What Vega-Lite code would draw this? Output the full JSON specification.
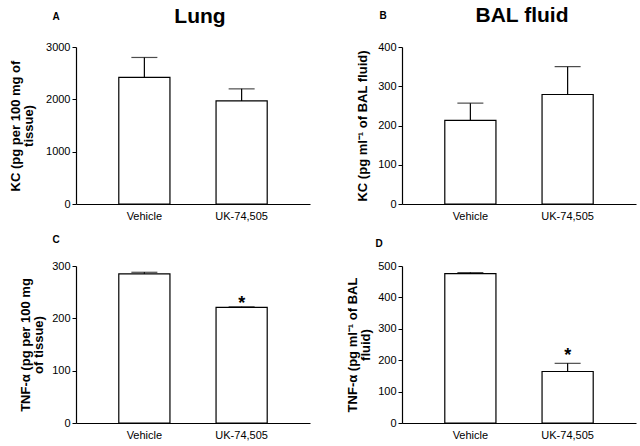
{
  "$schema": "https://vega.github.io/schema/vega-lite/v6.json",
  "background": "white",
  "padding": {"left": 9, "top": 5, "right": 5, "bottom": 5},
  "data": {"values": [
    {"panel": "A", "group": "Vehicle", "mean": 2420, "upper": 2800, "sig": ""},
    {"panel": "A", "group": "UK-74,505", "mean": 1970, "upper": 2200, "sig": ""},
    {"panel": "B", "group": "Vehicle", "mean": 213, "upper": 257, "sig": ""},
    {"panel": "B", "group": "UK-74,505", "mean": 279, "upper": 350, "sig": ""},
    {"panel": "C", "group": "Vehicle", "mean": 285, "upper": 288, "sig": ""},
    {"panel": "C", "group": "UK-74,505", "mean": 221, "upper": 222, "sig": "*"},
    {"panel": "D", "group": "Vehicle", "mean": 476, "upper": 479, "sig": ""},
    {"panel": "D", "group": "UK-74,505", "mean": 164, "upper": 190, "sig": "*"}
  ]},
  "columns": 2,
  "spacing": {"column": 36, "row": 13},
  "concat": [
    {
      "width": 234, "height": 157,
      "title": {"text": "Lung", "fontSize": 21, "fontWeight": "bold", "anchor": "middle", "frame": "group", "dx": 7, "offset": -33, "baseline": "alphabetic"},
      "transform": [{"filter": "datum.panel === 'A'"}],
      "layer": [
        {"mark": {"type": "bar", "fill": "white", "stroke": "black", "strokeWidth": 1.2},
         "encoding": {
           "x": {"field": "group", "type": "nominal", "sort": null, "scale": {"paddingInner": 0.474, "paddingOuter": 0.44},
                 "axis": {"orient": "bottom", "ticks": false, "labelAngle": 0, "labelPadding": 6, "title": null}},
           "y": {"field": "mean", "type": "quantitative", "scale": {"domain": [0, 3000], "nice": false},
                 "axis": {"values": [0, 1000, 2000, 3000], "title": ["KC (pg per 100 mg of", "tissue)"], "titlePadding": 10}}}},
        {"mark": {"type": "rule", "color": "black", "strokeWidth": 1.2},
         "encoding": {
           "x": {"field": "group", "type": "nominal", "sort": null,
                 "axis": {"orient": "top", "labels": false, "ticks": false, "domain": false, "title": "A", "titleX": -24, "titleY": -28, "titleAngle": 0, "titleAlign": "left", "titleBaseline": "alphabetic", "titleFontSize": 10}},
           "y": {"field": "mean", "type": "quantitative", "axis": {"values": [0, 1000, 2000, 3000], "title": ["KC (pg per 100 mg of", "tissue)"], "titlePadding": 10}},
           "y2": {"field": "upper"}}},
        {"mark": {"type": "tick", "color": "black", "size": 26, "thickness": 1.2},
         "encoding": {
           "x": {"field": "group", "type": "nominal", "sort": null, "axis": null},
           "y": {"field": "upper", "type": "quantitative", "axis": {"values": [0, 1000, 2000, 3000], "title": ["KC (pg per 100 mg of", "tissue)"], "titlePadding": 10}}}}
      ],
      "resolve": {"axis": {"x": "independent"}}
    },
    {
      "width": 234, "height": 157,
      "title": {"text": "BAL fluid", "fontSize": 21, "fontWeight": "bold", "anchor": "middle", "frame": "group", "dx": 3, "offset": -33, "baseline": "alphabetic"},
      "transform": [{"filter": "datum.panel === 'B'"}],
      "layer": [
        {"mark": {"type": "bar", "fill": "white", "stroke": "black", "strokeWidth": 1.2},
         "encoding": {
           "x": {"field": "group", "type": "nominal", "sort": null, "scale": {"paddingInner": 0.474, "paddingOuter": 0.44},
                 "axis": {"orient": "bottom", "ticks": false, "labelAngle": 0, "labelPadding": 6, "title": null}},
           "y": {"field": "mean", "type": "quantitative", "scale": {"domain": [0, 400], "nice": false},
                 "axis": {"values": [0, 100, 200, 300, 400], "title": "KC (pg ml⁻¹ of BAL fluid)", "titlePadding": 8}}}},
        {"mark": {"type": "rule", "color": "black", "strokeWidth": 1.2},
         "encoding": {
           "x": {"field": "group", "type": "nominal", "sort": null,
                 "axis": {"orient": "top", "labels": false, "ticks": false, "domain": false, "title": "B", "titleX": -23, "titleY": -29, "titleAngle": 0, "titleAlign": "left", "titleBaseline": "alphabetic", "titleFontSize": 10}},
           "y": {"field": "mean", "type": "quantitative", "axis": {"values": [0, 100, 200, 300, 400], "title": "KC (pg ml⁻¹ of BAL fluid)", "titlePadding": 8}},
           "y2": {"field": "upper"}}},
        {"mark": {"type": "tick", "color": "black", "size": 26, "thickness": 1.2},
         "encoding": {
           "x": {"field": "group", "type": "nominal", "sort": null, "axis": null},
           "y": {"field": "upper", "type": "quantitative", "axis": {"values": [0, 100, 200, 300, 400], "title": "KC (pg ml⁻¹ of BAL fluid)", "titlePadding": 8}}}}
      ],
      "resolve": {"axis": {"x": "independent"}}
    },
    {
      "width": 234, "height": 157,
      "transform": [{"filter": "datum.panel === 'C'"}],
      "layer": [
        {"mark": {"type": "bar", "fill": "white", "stroke": "black", "strokeWidth": 1.2},
         "encoding": {
           "x": {"field": "group", "type": "nominal", "sort": null, "scale": {"paddingInner": 0.474, "paddingOuter": 0.44},
                 "axis": {"orient": "bottom", "ticks": false, "labelAngle": 0, "labelPadding": 6, "title": null}},
           "y": {"field": "mean", "type": "quantitative", "scale": {"domain": [0, 300], "nice": false},
                 "axis": {"values": [0, 100, 200, 300], "title": ["TNF-α (pg per 100 mg", "of tissue)"], "titlePadding": 6}}}},
        {"mark": {"type": "rule", "color": "black", "strokeWidth": 1.2},
         "encoding": {
           "x": {"field": "group", "type": "nominal", "sort": null,
                 "axis": {"orient": "top", "labels": false, "ticks": false, "domain": false, "title": "C", "titleX": -24, "titleY": -24, "titleAngle": 0, "titleAlign": "left", "titleBaseline": "alphabetic", "titleFontSize": 10}},
           "y": {"field": "mean", "type": "quantitative", "axis": {"values": [0, 100, 200, 300], "title": ["TNF-α (pg per 100 mg", "of tissue)"], "titlePadding": 6}},
           "y2": {"field": "upper"}}},
        {"mark": {"type": "tick", "color": "black", "size": 26, "thickness": 1.2},
         "encoding": {
           "x": {"field": "group", "type": "nominal", "sort": null, "axis": null},
           "y": {"field": "upper", "type": "quantitative", "axis": {"values": [0, 100, 200, 300], "title": ["TNF-α (pg per 100 mg", "of tissue)"], "titlePadding": 6}}}},
        {"mark": {"type": "text", "fontSize": 18, "fontWeight": "bold", "baseline": "alphabetic", "dy": 2, "color": "black"},
         "encoding": {
           "x": {"field": "group", "type": "nominal", "sort": null, "axis": null},
           "y": {"field": "upper", "type": "quantitative", "axis": {"values": [0, 100, 200, 300], "title": ["TNF-α (pg per 100 mg", "of tissue)"], "titlePadding": 6}},
           "text": {"field": "sig"}}}
      ],
      "resolve": {"axis": {"x": "independent"}}
    },
    {
      "width": 234, "height": 157,
      "transform": [{"filter": "datum.panel === 'D'"}],
      "layer": [
        {"mark": {"type": "bar", "fill": "white", "stroke": "black", "strokeWidth": 1.2},
         "encoding": {
           "x": {"field": "group", "type": "nominal", "sort": null, "scale": {"paddingInner": 0.474, "paddingOuter": 0.44},
                 "axis": {"orient": "bottom", "ticks": false, "labelAngle": 0, "labelPadding": 6, "title": null}},
           "y": {"field": "mean", "type": "quantitative", "scale": {"domain": [0, 500], "nice": false},
                 "axis": {"values": [0, 100, 200, 300, 400, 500], "title": ["TNF-α (pg ml⁻¹ of BAL", "fluid)"], "titlePadding": 5}}}},
        {"mark": {"type": "rule", "color": "black", "strokeWidth": 1.2},
         "encoding": {
           "x": {"field": "group", "type": "nominal", "sort": null,
                 "axis": {"orient": "top", "labels": false, "ticks": false, "domain": false, "title": "D", "titleX": -27, "titleY": -20, "titleAngle": 0, "titleAlign": "left", "titleBaseline": "alphabetic", "titleFontSize": 10}},
           "y": {"field": "mean", "type": "quantitative", "axis": {"values": [0, 100, 200, 300, 400, 500], "title": ["TNF-α (pg ml⁻¹ of BAL", "fluid)"], "titlePadding": 5}},
           "y2": {"field": "upper"}}},
        {"mark": {"type": "tick", "color": "black", "size": 26, "thickness": 1.2},
         "encoding": {
           "x": {"field": "group", "type": "nominal", "sort": null, "axis": null},
           "y": {"field": "upper", "type": "quantitative", "axis": {"values": [0, 100, 200, 300, 400, 500], "title": ["TNF-α (pg ml⁻¹ of BAL", "fluid)"], "titlePadding": 5}}}},
        {"mark": {"type": "text", "fontSize": 18, "fontWeight": "bold", "baseline": "alphabetic", "dy": -2, "color": "black"},
         "encoding": {
           "x": {"field": "group", "type": "nominal", "sort": null, "axis": null},
           "y": {"field": "upper", "type": "quantitative", "axis": {"values": [0, 100, 200, 300, 400, 500], "title": ["TNF-α (pg ml⁻¹ of BAL", "fluid)"], "titlePadding": 5}},
           "text": {"field": "sig"}}}
      ],
      "resolve": {"axis": {"x": "independent"}}
    }
  ],
  "config": {
    "font": "Liberation Sans",
    "view": {"stroke": null},
    "title": {"color": "black", "font": "Liberation Sans"},
    "axis": {
      "grid": false,
      "domainColor": "black",
      "domainWidth": 1.2,
      "tickColor": "black",
      "tickSize": 4,
      "labelColor": "black",
      "labelFont": "Liberation Sans",
      "labelFontSize": 11,
      "labelPadding": 2,
      "labelOverlap": false,
      "titleColor": "black",
      "titleFont": "Liberation Sans",
      "titleFontSize": 13,
      "titleFontWeight": "bold",
      "titleLineHeight": 13
    },
    "axisQuantitative": {"format": "d"}
  }
}
